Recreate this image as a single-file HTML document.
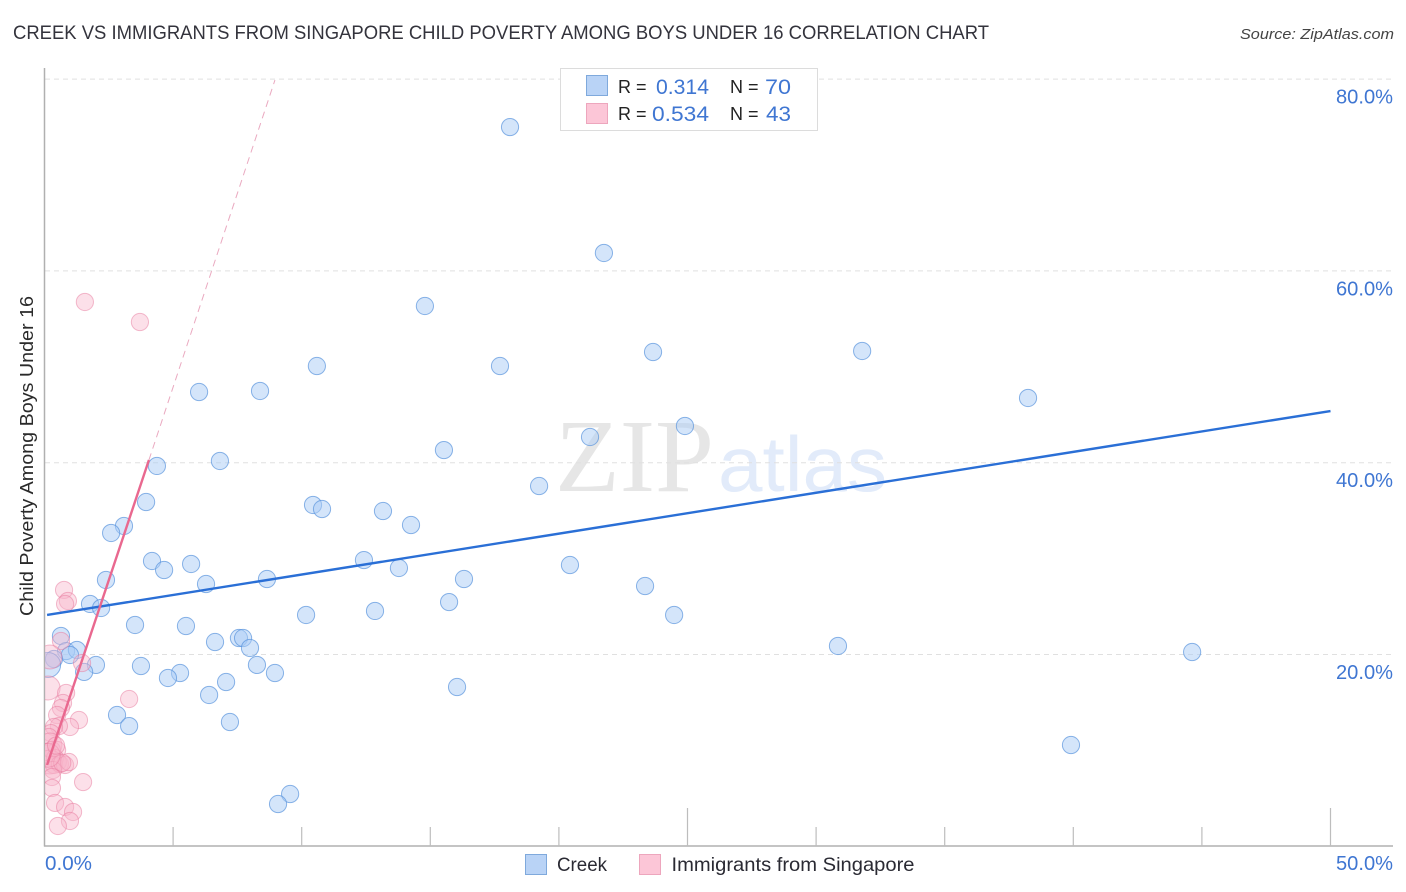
<!DOCTYPE html>
<html lang="en">
<head>
<meta charset="utf-8">
<title>Creek vs Immigrants from Singapore Child Poverty Among Boys Under 16 Correlation Chart</title>
<style>
html,body{margin:0;padding:0;background:#fff;width:1406px;height:892px;overflow:hidden}
svg{display:block}
text{font-family:"Liberation Sans",sans-serif}
</style>
</head>
<body>
<svg id="chart" width="1406" height="892" viewBox="0 0 1406 892" xmlns="http://www.w3.org/2000/svg">
  <defs><clipPath id="plot-clip"><rect x="45" y="60" width="1350" height="786"/></clipPath></defs>
  <text x="13" y="39" font-size="19" fill="#33333c" textLength="976" lengthAdjust="spacingAndGlyphs">CREEK VS IMMIGRANTS FROM SINGAPORE CHILD POVERTY AMONG BOYS UNDER 16 CORRELATION CHART</text>
  <text x="1394" y="39" font-size="15" font-style="italic" fill="#444" text-anchor="end" textLength="154" lengthAdjust="spacingAndGlyphs">Source: ZipAtlas.com</text>
  <g>
    <text x="555" y="491" font-size="104" fill="#e6e6e6" style="font-family:'Liberation Serif',serif" textLength="159" lengthAdjust="spacingAndGlyphs">ZIP</text>
    <text x="718" y="491" font-size="78" fill="#e2ebfa" textLength="169" lengthAdjust="spacingAndGlyphs">atlas</text>
  </g>
  <g id="grid"></g>
  <g id="axes"></g>
  <g id="points-creek" clip-path="url(#plot-clip)"></g>
  <g id="points-sing" clip-path="url(#plot-clip)"></g>
  <g id="trends"></g>
  <text transform="translate(33,456) rotate(-90)" font-size="18.5" fill="#2a2a2a" text-anchor="middle" textLength="320" lengthAdjust="spacingAndGlyphs">Child Poverty Among Boys Under 16</text>
  <g id="y-labels"></g>
  <g id="x-labels"></g>
  <g>
    <rect x="560.5" y="68.5" width="257" height="62" fill="#fff" stroke="#dcdcdc"/>
    <rect x="586.5" y="75.5" width="21" height="20" fill="#b9d3f6" stroke="#7fa9dc"/>
    <rect x="586.5" y="103.5" width="21" height="20" fill="#fcc6d7" stroke="#eda6bd"/>
    <text x="618" y="93" font-size="18" fill="#222">R =</text>
    <text x="709" y="94" font-size="21" fill="#3f76d2" text-anchor="end" textLength="53" lengthAdjust="spacingAndGlyphs">0.314</text>
    <text x="730" y="93" font-size="18" fill="#222">N =</text>
    <text x="791" y="94" font-size="21" fill="#3f76d2" text-anchor="end" textLength="26" lengthAdjust="spacingAndGlyphs">70</text>
    <text x="618" y="120" font-size="18" fill="#222">R =</text>
    <text x="709" y="121" font-size="21" fill="#3f76d2" text-anchor="end" textLength="57" lengthAdjust="spacingAndGlyphs">0.534</text>
    <text x="730" y="120" font-size="18" fill="#222">N =</text>
    <text x="791" y="121" font-size="21" fill="#3f76d2" text-anchor="end" textLength="25" lengthAdjust="spacingAndGlyphs">43</text>
  </g>
  <g>
    <g>
      <rect x="525.5" y="854.5" width="21" height="20" fill="#b9d3f6" stroke="#7fa9dc"/>
      <text x="557" y="871" font-size="19.5" fill="#2a2a33" textLength="50" lengthAdjust="spacingAndGlyphs">Creek</text>
    </g>
    <g>
      <rect x="639.5" y="854.5" width="21" height="20" fill="#fcc6d7" stroke="#eda6bd"/>
      <text x="671.5" y="871" font-size="19.5" fill="#2a2a33" textLength="243" lengthAdjust="spacingAndGlyphs">Immigrants from Singapore</text>
    </g>
  </g>
</svg>
<script>
var creekX = [18.10,21.75,14.79,23.66,31.79,10.59,17.71,6.01,8.38,38.24,24.90,21.21,15.53,6.82,4.37,19.23,3.95,10.44,10.79,13.16,14.25,3.09,2.59,12.42,4.18,5.70,20.43,4.65,13.78,8.65,16.31,2.39,6.28,23.35,15.73,1.77,2.20,10.17,12.85,24.48,3.52,5.50,0.64,6.63,7.56,7.72,7.99,30.85,44.62,0.84,1.26,0.99,0.37,0.14,8.26,2.00,3.75,1.54,8.96,5.27,4.80,7.06,6.40,16.04,2.82,3.29,7.21,39.91,9.55,9.08];
var creekY = [75.00,61.87,56.34,51.54,51.65,50.08,50.08,47.37,47.48,46.75,43.83,42.68,41.32,40.18,39.66,37.57,35.90,35.59,35.17,34.96,33.50,33.40,32.67,29.85,29.75,29.44,29.33,28.81,29.02,27.87,27.87,27.77,27.35,27.14,25.47,25.27,24.85,24.12,24.54,24.12,23.08,22.97,21.93,21.30,21.72,21.72,20.68,20.89,20.26,20.36,20.47,19.95,19.53,18.91,18.91,18.91,18.80,18.18,18.07,18.07,17.55,17.13,15.78,16.61,13.69,12.54,12.96,10.56,5.45,4.41];
var creekLargeSamples = [0.14];
var singX = [1.57,3.71,0.76,0.91,0.80,0.64,0.21,1.46,0.14,0.84,3.29,0.72,0.64,0.49,1.34,0.99,0.56,0.37,0.25,0.17,0.21,0.29,0.49,0.10,0.41,0.52,0.21,0.37,0.60,0.80,0.95,0.33,0.29,0.29,1.50,0.41,0.80,1.11,0.99,0.52,0.69,0.14,0.45];
var singY = [56.76,54.67,26.73,25.58,25.27,21.41,19.74,19.11,16.51,15.99,15.36,14.94,14.42,13.69,13.17,12.44,12.54,12.44,11.81,11.40,10.56,10.04,10.04,9.83,9.21,8.79,8.79,8.48,8.58,8.48,8.79,7.96,7.23,6.08,6.70,4.52,4.10,3.58,2.64,2.12,8.70,9.50,10.50];
var singLargeSamples = [0.21,0.14];
var creekTrendX = [0.1,50];
var creekTrendY = [24.12,45.39];
var singTrendX = [0.1,4.06];
var singTrendY = [8.48,40.28];
var singDashX = [4.06,8.96];
var singDashY = [40.28,79.9];
var yTicks = [20,40,60,80];
var yTickLabels = ['20.0%','40.0%','60.0%','80.0%'];
var xTicks = [0,5,10,15,20,25,30,35,40,45,50];
var xMajor = [0,25,50];
var xLabelValues = [0,50];
var xLabelText = ['0.0%','50.0%'];

var NS = 'http://www.w3.org/2000/svg';
function sx(v){ return 44.5 + v * 25.72; }
function sy(v){ return 846.3 - v * 9.59; }
function mk(tag, parent, attrs){
  var el = document.createElementNS(NS, tag);
  for (var k in attrs) el.setAttribute(k, attrs[k]);
  parent.appendChild(el);
  return el;
}
var grid = document.getElementById('grid');
var axes = document.getElementById('axes');
var yLabels = document.getElementById('y-labels');
var xLabels = document.getElementById('x-labels');
var trends = document.getElementById('trends');
var gCreek = document.getElementById('points-creek');
var gSing = document.getElementById('points-sing');

yTicks.forEach(function(t, i){
  var line = mk('line', grid, {x1:45, x2:1393, y1:sy(t), y2:sy(t), stroke:'#e0e0e0', 'stroke-width':1, 'stroke-dasharray':'5 4'});
  
  
  var lab = mk('text', yLabels, {x:1393, y:sy(t)+24.5, 'font-size':20, fill:'#3f76d2', 'text-anchor':'end', textLength:57, lengthAdjust:'spacingAndGlyphs'});
  lab.textContent = yTickLabels[i];
  
  
});

var yAxis = mk('line', axes, {x1:44.5, x2:44.5, y1:68, y2:846.5, stroke:'#b0b0b0', 'stroke-width':1.5});


var xAxis = mk('line', axes, {x1:44, x2:1393, y1:846, y2:846, stroke:'#b0b0b0', 'stroke-width':1.5});


xTicks.forEach(function(t){
  if (t === 0) return;
  var top = xMajor.indexOf(t) >= 0 ? 808 : 827;
  var tick = mk('line', axes, {x1:sx(t), x2:sx(t), y1:top, y2:846, stroke:'#bdbdbd', 'stroke-width':1.2});
  
  
});
xLabelValues.forEach(function(t, i){
  var isLast = t === 50;
  var lab = mk('text', xLabels, {x:isLast ? 1393 : 45, y:870, 'font-size':20, fill:'#3f76d2', 'text-anchor':isLast ? 'end' : 'start', textLength:isLast ? 57 : 47, lengthAdjust:'spacingAndGlyphs'});
  lab.textContent = xLabelText[i];
  
  
});

creekX.forEach(function(x, i){
  var big = creekLargeSamples.indexOf(x) >= 0;
  var c = mk('circle', gCreek, {cx:sx(x), cy:sy(creekY[i]), r:big ? 12.5 : 8.6, fill:'#a9cbf5', 'fill-opacity':0.5, stroke:'#5a94dd', 'stroke-opacity':0.7, 'stroke-width':1});
  
  
});
singX.forEach(function(x, i){
  var big = singLargeSamples.indexOf(x) >= 0;
  var c = mk('circle', gSing, {cx:sx(x), cy:sy(singY[i]), r:big ? 12 : 8.6, fill:'#f9b4ca', 'fill-opacity':0.42, stroke:'#e8799d', 'stroke-opacity':0.5, 'stroke-width':1});
  
  
});

var dash = mk('line', trends, {x1:sx(singDashX[0]), y1:sy(singDashY[0]), x2:sx(singDashX[1]), y2:sy(singDashY[1]), stroke:'#eaa9c0', 'stroke-width':1, 'stroke-dasharray':'7 5'});


var tc = mk('line', trends, {x1:sx(creekTrendX[0]), y1:sy(creekTrendY[0]), x2:sx(creekTrendX[1]), y2:sy(creekTrendY[1]), stroke:'#2a6fd6', 'stroke-width':2.4});


var ts = mk('line', trends, {x1:sx(singTrendX[0]), y1:sy(singTrendY[0]), x2:sx(singTrendX[1]), y2:sy(singTrendY[1]), stroke:'#e9688f', 'stroke-width':2.4});


</script>
</body>
</html>
